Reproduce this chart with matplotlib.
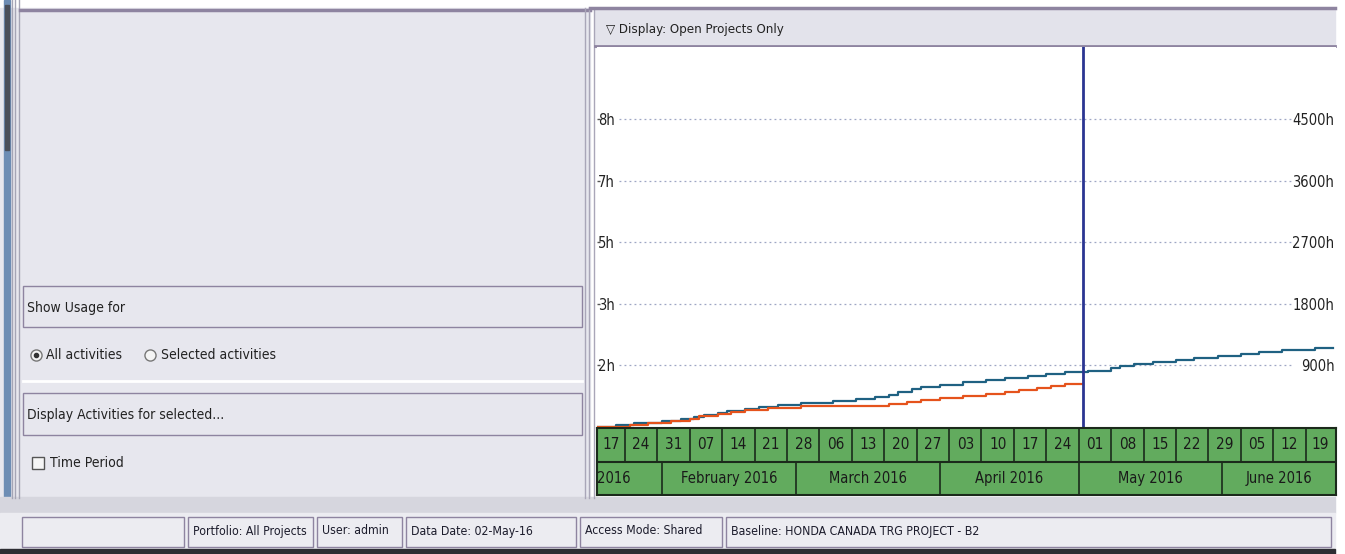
import pandas as pd
import matplotlib
matplotlib.use('Agg')
import matplotlib.pyplot as plt
from matplotlib.patches import Rectangle

plt.rcParams['font.family'] = ['DejaVu Sans']
plt.rcParams['font.stretch'] = 'condensed'

# ---- values ----
week_starts = ['2016-01-17', '2016-01-24', '2016-01-31', '2016-02-07', '2016-02-14', '2016-02-21',
               '2016-02-28', '2016-03-06', '2016-03-13', '2016-03-20', '2016-03-27', '2016-04-03',
               '2016-04-10', '2016-04-17', '2016-04-24', '2016-05-01', '2016-05-08', '2016-05-15',
               '2016-05-22', '2016-05-29', '2016-06-05', '2016-06-12', '2016-06-19']
week_labels = ['17', '24', '31', '07', '14', '21', '28', '06', '13', '20', '27', '03',
               '10', '17', '24', '01', '08', '15', '22', '29', '05', '12', '19']
month_starts = ['2016-01-01', '2016-02-01', '2016-03-01', '2016-04-01', '2016-05-01', '2016-06-01']
month_labels = ['2016', 'February 2016', 'March 2016', 'April 2016', 'May 2016', 'June 2016']

# cumulative hours (right axis), step changes
blue_dates = ['2016-01-18', '2016-01-22', '2016-01-26', '2016-02-01', '2016-02-05', '2016-02-08',
              '2016-02-10', '2016-02-13', '2016-02-15', '2016-02-19', '2016-02-22', '2016-02-26',
              '2016-03-02', '2016-03-09', '2016-03-14', '2016-03-18', '2016-03-21', '2016-03-23',
              '2016-03-26', '2016-03-28', '2016-04-01', '2016-04-06', '2016-04-11', '2016-04-15',
              '2016-04-20', '2016-04-24', '2016-04-28', '2016-05-03', '2016-05-08', '2016-05-10',
              '2016-05-13', '2016-05-17', '2016-05-22', '2016-05-26', '2016-05-31', '2016-06-05',
              '2016-06-09', '2016-06-14', '2016-06-21', '2016-06-25']
blue_hours = [0, 25, 54, 83, 112, 142, 171, 200, 230, 259,
              288, 317, 351, 380, 410, 439, 468, 507, 556, 585,
              614, 653, 683, 712, 741, 771, 800, 824, 858, 888,
              922, 951, 980, 1009, 1043, 1068, 1102, 1131, 1160, 1160]

orange_dates = ['2016-01-18', '2016-01-25', '2016-01-29', '2016-02-03', '2016-02-07', '2016-02-09',
                '2016-02-13', '2016-02-16', '2016-02-19', '2016-02-24', '2016-03-02', '2016-03-21',
                '2016-03-25', '2016-03-28', '2016-04-01', '2016-04-06', '2016-04-11', '2016-04-15',
                '2016-04-18', '2016-04-22', '2016-04-25', '2016-04-28', '2016-05-02']
orange_hours = [0, 29, 59, 88, 117, 156, 190, 219, 249, 278, 302, 332,
                361, 390, 419, 449, 478, 507, 536, 566, 595, 629, 629]

grid_hours = [900, 1800, 2700, 3600, 4500]
left_labels = ['2h', '3h', '5h', '7h', '8h']
right_labels = ['900h', '1800h', '2700h', '3600h', '4500h']

data_date = '2016-05-02'
view_start = '2016-01-17 21:30'
view_end = '2016-06-25 12:00'

status_texts = ['', 'Portfolio: All Projects', 'User: admin', 'Data Date: 02-May-16',
                'Access Mode: Shared', 'Baseline: HONDA CANADA TRG PROJECT - B2']

# ---- figure in pixel units ----
W, H = 1345, 554
fig = plt.figure(figsize=(W / 100, H / 100), dpi=100)
fig.patch.set_facecolor('white')


def px_axes(x0, y0, x1, y1, **kw):
    return fig.add_axes([x0 / W, 1 - y1 / H, (x1 - x0) / W, (y1 - y0) / H], **kw)


frame = '#8e84a0'
ink = '#222'
bg = px_axes(0, 0, W, H)
bg.set_xlim(0, W)
bg.set_ylim(H, 0)
bg.axis('off')

# left panel
bg.add_patch(Rectangle((0, 8), 590, 490, color='#e7e7ee'))
bg.add_patch(Rectangle((4, 0), 6, 498, color='#6d8db4'))
bg.add_patch(Rectangle((5, 5), 4, 145, color='#4a4f5a'))
for xv in [12, 15, 19]:
    bg.plot([xv, xv], [0, 498], color='#a5a5b5', lw=1)
bg.plot([20, 590], [10, 10], color=frame, lw=2.5)

bg.add_patch(Rectangle((23, 286), 559, 41, fill=False, ec=frame, lw=1))
bg.text(27, 308, 'Show Usage for', fontsize=10, va='center', color=ink)
bg.plot([36], [355], marker='o', ms=8, mfc='#f4f4f4', mec='#777', mew=1)
bg.plot([36], [355], marker='o', ms=3, color='#333')
bg.text(46, 355, 'All activities', fontsize=10, va='center', color=ink)
bg.plot([150], [355], marker='o', ms=8, mfc='#f4f4f4', mec='#777', mew=1)
bg.text(161, 355, 'Selected activities', fontsize=10, va='center', color=ink)
bg.plot([23, 582], [381, 381], color='white', lw=2)
bg.add_patch(Rectangle((23, 393), 559, 42, fill=False, ec=frame, lw=1))
bg.text(27, 415, 'Display Activities for selected...', fontsize=10, va='center', color=ink)
bg.plot([38], [463], marker='s', ms=8, mfc='#f6f6f6', mec='#555', mew=1)
bg.text(50, 463, 'Time Period', fontsize=10, va='center', color=ink)

# separator between panels
for xv in [585, 589, 594]:
    bg.plot([xv, xv], [8, 498], color='#a9a6b8', lw=1)

# chart header bar
bg.add_patch(Rectangle((595, 8), 740, 39, color='#e3e3eb'))
bg.plot([590, 1335], [8, 8], color=frame, lw=2.5)
bg.plot([595, 1335], [46, 46], color=frame, lw=2)
bg.text(606, 29, '\u25bd Display: Open Projects Only', fontsize=9.5, va='center', color=ink)

# strip and status bar
bg.add_patch(Rectangle((0, 497), 1335, 16, color='#d6d6de'))
bg.add_patch(Rectangle((0, 513), 1335, 37, color='#ececf1'))
bg.add_patch(Rectangle((0, 549), 1335, 5, color='#2d2d33'))
status_edges = [22, 188, 317, 406, 580, 726, 1335]
for i, txt in enumerate(status_texts):
    x0, x1 = status_edges[i], status_edges[i + 1] - 4
    bg.add_patch(Rectangle((x0, 517), x1 - x0, 30, fill=False, ec=frame, lw=1))
    bg.text(x0 + 5, 531, txt, fontsize=8.8, va='center', color='#1c1c2c')

# ---- main usage chart ----
x_lo, x_hi = pd.Timestamp(view_start), pd.Timestamp(view_end)
ax = px_axes(596.7, 47, 1335.7, 428)
ax.set_facecolor('white')
ax.set_xlim(x_lo, x_hi)
ax.set_ylim(-15, 5560)
for s in ax.spines.values():
    s.set_visible(False)
ax.set_xticks([])

for g in grid_hours:
    ax.axhline(g, xmin=0.03, xmax=0.94, color='#9ea6c4', lw=0.9, ls=(0, (1.5, 2.5)))

ax.step(pd.to_datetime(blue_dates), blue_hours, where='post', color='#1f6182', lw=1.6, zorder=3)
ax.step(pd.to_datetime(orange_dates), orange_hours, where='post', color='#e5531c', lw=1.6, zorder=3)
ax.axvline(pd.Timestamp(data_date), color='#2b3592', lw=2, zorder=4)

ax.set_yticks(grid_hours)
ax.set_yticklabels(left_labels)
ax.tick_params(axis='y', direction='in', length=2, width=1, color='#555', pad=-13,
               labelsize=10.5, labelcolor=ink)

twin = ax.twinx()
twin.set_ylim(ax.get_ylim())
for s in twin.spines.values():
    s.set_visible(False)
twin.set_yticks(grid_hours)
twin.set_yticklabels(right_labels)
for lab in twin.get_yticklabels():
    lab.set_ha('right')
twin.tick_params(axis='y', length=0, pad=-1, labelsize=10.5, labelcolor=ink)

# ---- timescale header ----
hd = px_axes(596.7, 428, 1335.7, 495)
hd.set_facecolor('#62ab5e')
hd.set_xlim(x_lo, x_hi)
hd.set_ylim(0, 2)
hd.set_xticks([])
hd.set_yticks([])
for s in hd.spines.values():
    s.set_color('#1b2a1b')
    s.set_linewidth(1.5)
hd.axhline(1, color='#1b2a1b', lw=1.5)

wk = pd.to_datetime(week_starts)
wk_end = list(wk[1:]) + [wk[-1] + pd.Timedelta(days=7)]
for s, e, lab in zip(wk, wk_end, week_labels):
    if s > x_lo:
        hd.plot([s, s], [1, 2], color='#1b2a1b', lw=1.2)
    c = max(s, x_lo) + (min(e, x_hi) - max(s, x_lo)) / 2
    hd.text(c, 1.5, lab, ha='center', va='center', fontsize=11, color='#1a1a1a')

ms = pd.to_datetime(month_starts)
ms_end = list(ms[1:]) + [x_hi]
for s, e, lab in zip(ms, ms_end, month_labels):
    if s > x_lo:
        hd.plot([s, s], [0, 1], color='#1b2a1b', lw=1.2)
        c = s + (min(e, x_hi) - s) / 2
        hd.text(c, 0.5, lab, ha='center', va='center', fontsize=10.5, color='#1a1a1a')
    else:
        hd.text(x_lo + pd.Timedelta(hours=4), 0.5, lab, ha='left', va='center',
                fontsize=10.5, color='#1a1a1a')

fig.savefig('out.png', dpi=100)
